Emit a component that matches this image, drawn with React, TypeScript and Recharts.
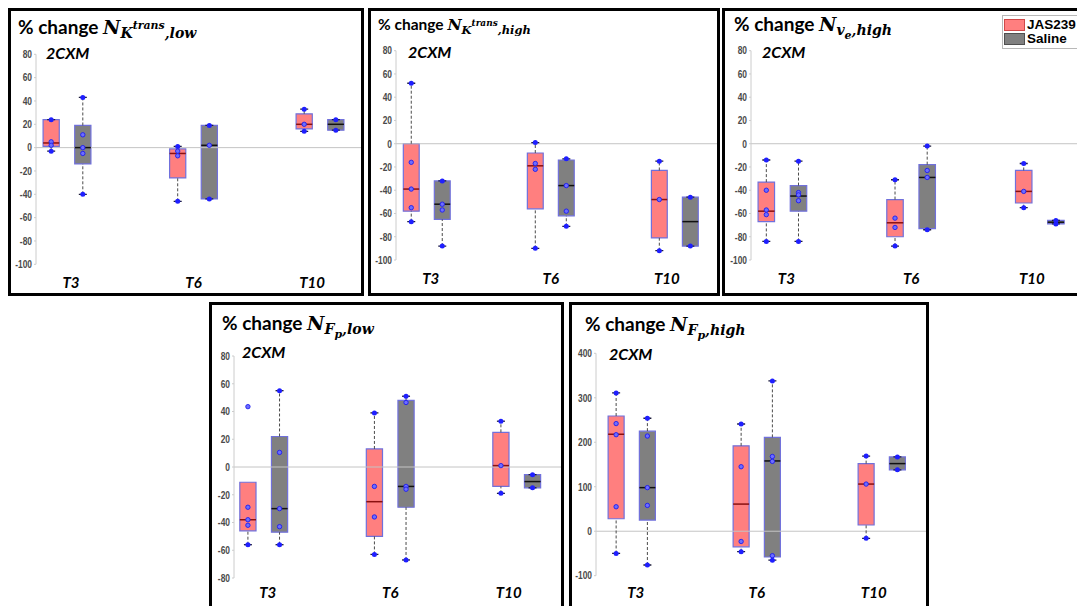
import React from "react";
import {
  ComposedChart,
  ReferenceArea,
  ReferenceLine,
  Scatter,
  XAxis,
  YAxis,
} from "recharts";

const GROUPS = ["T3", "T6", "T10"];
const SERIES = ["JAS239", "Saline"];

const TICKS_PCT = [-100, -80, -60, -40, -20, 0, 20, 40, 60, 80];
const TICKS_FP_LOW = [-80, -60, -40, -20, 0, 20, 40, 60, 80];
const TICKS_FP_HIGH = [-100, 0, 100, 200, 300, 400];

// each box: [lower whisker, q1, median, q3, upper whisker]
const ktransLowJas = [[-3, 1, 4, 24, 24], [-46, -26, -5, -1, 1], [14, 16, 20, 29, 33]];
const ktransLowSaline = [[-40, -14, 0, 19, 43], [-44, -44, 2, 19, 19], [15, 15, 20, 24, 24]];
const ktransLowJasPts = [[5, 2], [-3, -7], [20]];
const ktransLowSalinePts = [[11, 0, -5], [2], []];

const ktransHighJas = [[-67, -58, -39, 0, 52], [-90, -56, -19, -8, 1], [-92, -81, -48, -23, -15]];
const ktransHighSaline = [[-88, -65, -52, -32, -32], [-71, -62, -36, -14, -13], [-88, -88, -67, -46, -46]];
const ktransHighJasPts = [[-16, -39, -55], [-17, -22], [-48]];
const ktransHighSalinePts = [[-52, -57], [-36, -58], []];

const veHighJas = [[-84, -67, -58, -33, -14], [-88, -80, -68, -48, -31], [-55, -51, -41, -23, -17]];
const veHighSaline = [[-84, -58, -45, -36, -15], [-74, -73, -29, -18, -2], [-69, -69, -67.5, -66, -66]];
const veHighJasPts = [[-40, -57, -61], [-64, -72], [-41]];
const veHighSalinePts = [[-42, -44, -49], [-23, -29], []];

const fpLowJas = [[-56, -46, -38, -11, null], [-63, -50, -25, 13, 39], [-19, -14, 1, 25, 33]];
const fpLowSaline = [[-56, -47, -30, 22, 55], [-67, -29, -14, 48, 51], [-15, -15, -10.5, -5.5, -5.5]];
const fpLowJasPts = [[43.5, -29, -38, -42], [-14, -36], [1]];
const fpLowSalinePts = [[10.5, -30, -43], [46.5, -14, -16], []];

const fpHighJas = [[-50, 28, 218, 259, 311], [-46, -35, 61, 192, 241], [-16, 14, 106, 152, 169]];
const fpHighSaline = [[-76, 25, 98, 225, 254], [-65, -58, 158, 211, 338], [138, 138, 152, 167, 167]];
const fpHighJasPts = [[242, 217, 55], [145, -23], [106]];
const fpHighSalinePts = [[214, 98, 58], [168, 157, -55], []];

const RED = "#ff7f7f";
const GREY = "#808080";
const EDGE = "#7070dc";
const SANS = "'Liberation Sans', Arial, sans-serif";
const CALIB = "Lato, 'Open Sans', sans-serif";
const MATH = "'DejaVu Serif', 'Liberation Serif', serif";

const OFF = 0.125; // half distance between the two boxes of a group
const HALF = 0.064; // half box width

type Box = (number | null)[];

function TitleMath({ main, sup, low, tail }: { main: string; sup?: string; low?: string; tail: string }) {
  return (
    <span style={{ fontFamily: MATH, fontStyle: "italic", fontWeight: 700 }}>
      N
      <span style={{ fontSize: "0.74em", position: "relative", top: "0.32em" }}>
        {main}
        {sup && (
          <span style={{ fontSize: "0.78em", position: "relative", top: "-0.85em" }}>{sup}</span>
        )}
        {low && (
          <span style={{ fontSize: "0.78em", position: "relative", top: "0.3em" }}>{low}</span>
        )}
        {tail}
      </span>
    </span>
  );
}

const NUDGE = [4, 0, -8];

function GroupTick(props: any) {
  const { x, y, payload, index, gap } = props;
  return (
    <text
      x={x + NUDGE[index]}
      y={y + gap + 11}
      textAnchor="middle"
      fontFamily={CALIB}
      fontWeight={700}
      fontStyle="italic"
      fontSize={15}
      fill="#000"
    >
      {GROUPS[payload.value - 1]}
    </text>
  );
}

// condensed bold tick numbers on the value axis
function ValueTick(props: any) {
  const { x, y, payload } = props;
  return (
    <text
      transform={`translate(${x},${y}) scale(0.8,1)`}
      textAnchor="end"
      dy="0.36em"
      fontFamily={SANS}
      fontWeight={700}
      fontSize={10.5}
      fill="#4a4a4a"
    >
      {payload.value}
    </text>
  );
}

const CapShape = (p: any) => (
  <g>
    <line x1={p.cx - 4} x2={p.cx + 4} y1={p.cy} y2={p.cy} stroke="#1a1a3a" strokeWidth={1.3} />
    <circle cx={p.cx} cy={p.cy} r={2.5} fill="#1f1fff" />
  </g>
);

const PointShape = (p: any) => (
  <circle cx={p.cx} cy={p.cy} r={2.2} fill="#6d6dff" stroke="#1d1dee" strokeWidth={0.9} />
);

function boxMarks(boxes: Box[], side: number, fill: string, median: string, key: string) {
  const out: React.ReactNode[] = [];
  boxes.forEach((b, i) => {
    const [lo, q1, med, q3, hi] = b as number[];
    const x = i + 1 + side * OFF;
    if (lo !== null && lo < q1)
      out.push(
        <ReferenceLine key={`${key}wl${i}`} segment={[{ x, y: lo }, { x, y: q1 }]} stroke="#4a4a4a" strokeDasharray="3 2" />
      );
    if (hi !== null && hi > q3)
      out.push(
        <ReferenceLine key={`${key}wh${i}`} segment={[{ x, y: q3 }, { x, y: hi }]} stroke="#4a4a4a" strokeDasharray="3 2" />
      );
    out.push(
      <ReferenceArea
        key={`${key}b${i}`}
        x1={x - HALF}
        x2={x + HALF}
        y1={q1}
        y2={q3}
        fill={fill}
        fillOpacity={1}
        stroke={EDGE}
        strokeWidth={1.2}
      />
    );
    out.push(
      <ReferenceLine
        key={`${key}m${i}`}
        segment={[{ x: x - HALF, y: med }, { x: x + HALF, y: med }]}
        stroke={median}
        strokeWidth={1.5}
      />
    );
  });
  return out;
}

function capData(boxes: Box[], side: number) {
  const pts: { x: number; y: number }[] = [];
  boxes.forEach((b, i) => {
    const x = i + 1 + side * OFF;
    if (b[0] !== null) pts.push({ x, y: b[0] as number });
    if (b[4] !== null) pts.push({ x, y: b[4] as number });
  });
  return pts;
}

function pointData(groups: number[][], side: number) {
  return groups.flatMap((vals, i) => vals.map((v) => ({ x: i + 1 + side * OFF, y: v })));
}

type PanelCfg = {
  left: number;
  top: number;
  w: number;
  h: number;
  axisX: number;
  plotTop: number;
  plotBottom: number;
  xDomain: [number, number];
  yDomain: [number, number];
  yTicks: number[];
  labelGap: number;
  title: React.ReactNode;
  titleSize: number;
  titleAt: [number, number];
  cxmAt: [number, number];
  jas: Box[];
  saline: Box[];
  jasPts: number[][];
  salinePts: number[][];
  legend?: boolean;
};

function Panel({ c }: { c: PanelCfg }) {
  const innerW = c.w - 6;
  const innerH = c.h - 6;
  return (
    <div
      style={{
        position: "absolute",
        left: c.left,
        top: c.top,
        width: c.w,
        height: c.h,
        border: "3px solid #000",
        boxSizing: "border-box",
        background: "#fff",
        overflow: "hidden",
      }}
    >
      <ComposedChart
        width={innerW}
        height={innerH}
        margin={{ top: c.plotTop, right: 0, bottom: 0, left: 0 }}
      >
        <XAxis
          type="number"
          dataKey="x"
          domain={c.xDomain}
          allowDataOverflow
          ticks={[1, 2, 3]}
          interval={0}
          axisLine={false}
          tickLine={false}
          tickSize={0}
          tickMargin={0}
          height={innerH - c.plotBottom}
          tick={(p: any) => <GroupTick {...p} gap={c.labelGap} />}
        />
        <YAxis
          type="number"
          dataKey="y"
          domain={c.yDomain}
          allowDataOverflow
          ticks={c.yTicks}
          interval={0}
          width={c.axisX}
          axisLine={{ stroke: "#cccccc" }}
          tickLine={{ stroke: "#cccccc" }}
          tickSize={2}
          tickMargin={2}
          tick={ValueTick}
        />
        <ReferenceLine y={0} stroke="#c4c4c4" strokeWidth={1} />
        {boxMarks(c.jas, -1, RED, "#8a1010", "j")}
        {boxMarks(c.saline, 1, GREY, "#111", "s")}
        <Scatter data={pointData(c.jasPts, -1)} shape={PointShape} isAnimationActive={false} />
        <Scatter data={pointData(c.salinePts, 1)} shape={PointShape} isAnimationActive={false} />
        <Scatter data={capData(c.jas, -1)} shape={CapShape} isAnimationActive={false} />
        <Scatter data={capData(c.saline, 1)} shape={CapShape} isAnimationActive={false} />
      </ComposedChart>
      <div
        style={{
          position: "absolute",
          left: c.titleAt[0],
          top: c.titleAt[1],
          fontFamily: CALIB,
          fontWeight: 700,
          fontSize: c.titleSize,
          lineHeight: 1,
          whiteSpace: "nowrap",
        }}
      >
        % change {c.title}
      </div>
      <div
        style={{
          position: "absolute",
          left: c.cxmAt[0],
          top: c.cxmAt[1],
          fontFamily: CALIB,
          fontWeight: 700,
          fontStyle: "italic",
          fontSize: 16,
          lineHeight: 1,
        }}
      >
        2CXM
      </div>
      {c.legend && (
        <div
          style={{
            position: "absolute",
            left: 277,
            top: 4,
            width: 90,
            height: 32,
            border: "1px solid #b8b8b8",
            background: "#fff",
            fontFamily: SANS,
            fontWeight: 700,
            fontSize: 13.5,
          }}
        >
          {SERIES.map((s, i) => (
            <div key={s} style={{ position: "absolute", left: 1, top: 2 + i * 14, height: 13, display: "flex", alignItems: "center" }}>
              <span
                style={{
                  display: "inline-block",
                  width: 19,
                  height: 10,
                  background: i === 0 ? RED : GREY,
                  border: `1px solid ${i === 0 ? "#d04848" : "#505050"}`,
                  marginRight: 2,
                }}
              />
              <span style={{ lineHeight: 1 }}>{s}</span>
            </div>
          ))}
        </div>
      )}
    </div>
  );
}

const PANELS: PanelCfg[] = [
  {
    left: 8, top: 8, w: 356, h: 288,
    axisX: 25, plotTop: 43.3, plotBottom: 253.3,
    xDomain: [0.755, 3.324], yDomain: [-100, 80], yTicks: TICKS_PCT, labelGap: 13,
    title: <TitleMath main="K" sup="trans" tail=",low" />, titleSize: 19, titleAt: [7, 6], cxmAt: [35, 34],
    jas: ktransLowJas, saline: ktransLowSaline, jasPts: ktransLowJasPts, salinePts: ktransLowSalinePts,
  },
  {
    left: 368, top: 8, w: 352, h: 288,
    axisX: 25, plotTop: 39.7, plotBottom: 249,
    xDomain: [0.752, 3.34], yDomain: [-100, 80], yTicks: TICKS_PCT, labelGap: 13,
    title: <TitleMath main="K" sup="trans" tail=",high" />, titleSize: 15.5, titleAt: [7, 6], cxmAt: [37, 33],
    jas: ktransHighJas, saline: ktransHighSaline, jasPts: ktransHighJasPts, salinePts: ktransHighSalinePts,
  },
  {
    left: 722, top: 8, w: 362, h: 288,
    axisX: 26, plotTop: 39.7, plotBottom: 249,
    xDomain: [0.756, 3.32], yDomain: [-100, 80], yTicks: TICKS_PCT, labelGap: 13,
    title: <TitleMath main="v" low="e" tail=",high" />, titleSize: 19, titleAt: [9, 3], cxmAt: [37, 33],
    jas: veHighJas, saline: veHighSaline, jasPts: veHighJasPts, salinePts: veHighSalinePts,
    legend: true,
  },
  {
    left: 209, top: 302, w: 355, h: 320,
    axisX: 22, plotTop: 51, plotBottom: 273,
    xDomain: [0.765, 3.35], yDomain: [-80, 80], yTicks: TICKS_FP_LOW, labelGap: 9,
    title: <TitleMath main="F" low="p" tail=",low" />, titleSize: 19, titleAt: [10, 8], cxmAt: [30, 39],
    jas: fpLowJas, saline: fpLowSaline, jasPts: fpLowJasPts, salinePts: fpLowSalinePts,
  },
  {
    left: 569, top: 302, w: 360, h: 320,
    axisX: 24, plotTop: 48.3, plotBottom: 270.7,
    xDomain: [0.714, 3.354], yDomain: [-100, 400], yTicks: TICKS_FP_HIGH, labelGap: 11,
    title: <TitleMath main="F" low="p" tail=",high" />, titleSize: 19, titleAt: [13, 9], cxmAt: [37, 41],
    jas: fpHighJas, saline: fpHighSaline, jasPts: fpHighJasPts, salinePts: fpHighSalinePts,
  },
];

export default function App() {
  return (
    <div
      style={{
        position: "absolute",
        left: 0,
        top: 0,
        width: 1077,
        height: 606,
        overflow: "hidden",
        background: "#fff",
      }}
    >
      {PANELS.map((c, i) => (
        <Panel key={i} c={c} />
      ))}
    </div>
  );
}
